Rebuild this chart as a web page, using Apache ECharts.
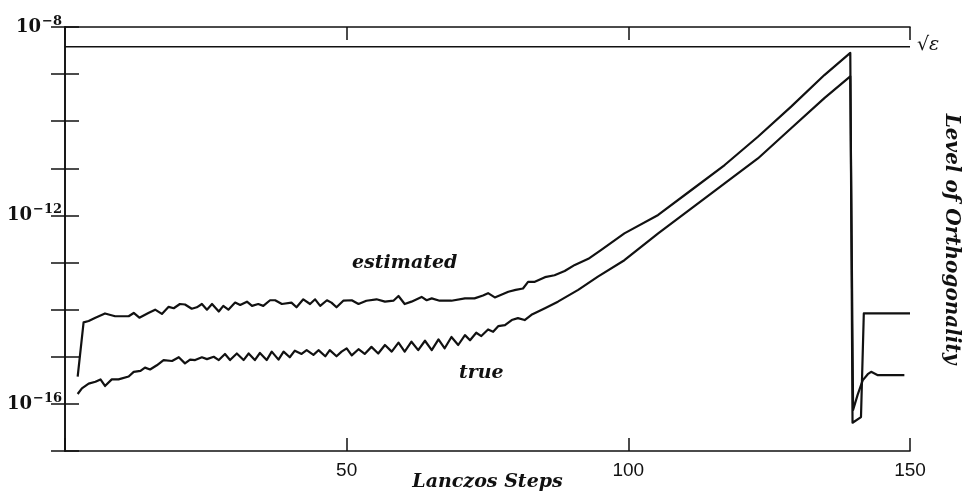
<!DOCTYPE html>
<html>
<head>
<meta charset="utf-8">
<script src="https://cdn.jsdelivr.net/npm/echarts@6/dist/echarts.min.js"></script>
<style>html,body{margin:0;padding:0;background:#fff}#c{width:971px;height:498px}</style>
</head>
<body>
<div id="c"></div>
<script>
// x: Lanczos step, y: log10 of level of orthogonality
var estimated = [[2.25,-15.42],[3.3,-14.27],[4.2,-14.24],[5.4,-14.17],[7.1,-14.08],[8.9,-14.14],[11.3,-14.14],[12.2,-14.07],[13.2,-14.17],[14.8,-14.07],[16.0,-14.00],[17.2,-14.09],[18.4,-13.94],[19.3,-13.97],[20.4,-13.88],[21.3,-13.89],[22.5,-13.98],[23.4,-13.95],[24.3,-13.88],[25.2,-14.00],[26.1,-13.88],[27.3,-14.04],[28.1,-13.92],[29.0,-14.00],[30.2,-13.85],[31.1,-13.90],[32.3,-13.83],[33.2,-13.92],[34.3,-13.88],[35.2,-13.92],[36.4,-13.80],[37.3,-13.80],[38.5,-13.88],[40.2,-13.85],[41.1,-13.95],[42.3,-13.78],[43.5,-13.88],[44.4,-13.78],[45.3,-13.92],[46.5,-13.80],[47.3,-13.85],[48.2,-13.95],[49.4,-13.81],[50.9,-13.80],[52.1,-13.88],[53.5,-13.81],[55.3,-13.78],[56.8,-13.83],[58.3,-13.81],[59.2,-13.71],[60.3,-13.88],[61.5,-13.83],[63.3,-13.73],[64.2,-13.80],[65.1,-13.76],[66.5,-13.81],[68.6,-13.81],[71.0,-13.76],[72.7,-13.76],[74.2,-13.70],[75.1,-13.65],[76.3,-13.74],[78.7,-13.62],[80.0,-13.58],[81.3,-13.55],[82.2,-13.41],[83.4,-13.41],[85.2,-13.31],[86.9,-13.27],[88.7,-13.18],[90.5,-13.05],[92.9,-12.92],[95.2,-12.73],[99.3,-12.38],[105.3,-11.99],[111.2,-11.46],[117.1,-10.93],[123.0,-10.33],[128.9,-9.69],[134.8,-9.02],[139.4,-8.55],[139.8,-16.40],[141.3,-16.28],[141.8,-14.08],[150,-14.08]];
var trueLevel = [[2.25,-15.79],[3.0,-15.67],[4.2,-15.57],[5.4,-15.53],[6.3,-15.48],[7.1,-15.62],[8.3,-15.48],[9.5,-15.48],[11.3,-15.42],[12.2,-15.32],[13.4,-15.30],[14.2,-15.23],[15.1,-15.27],[16.3,-15.18],[17.5,-15.07],[19.0,-15.09],[20.2,-15.01],[21.3,-15.14],[22.2,-15.06],[23.1,-15.07],[24.3,-15.01],[25.2,-15.05],[26.4,-15.00],[27.3,-15.07],[28.4,-14.94],[29.3,-15.07],[30.5,-14.93],[31.7,-15.07],[32.6,-14.93],[33.7,-15.07],[34.6,-14.92],[35.8,-15.07],[36.7,-14.89],[37.9,-15.06],[38.8,-14.89],[39.9,-15.01],[40.8,-14.87],[42.0,-14.94],[42.9,-14.86],[44.1,-14.96],[45.0,-14.86],[46.2,-14.99],[47.0,-14.86],[48.2,-14.99],[49.1,-14.89],[50.0,-14.82],[50.9,-14.97],[52.1,-14.84],[53.2,-14.94],[54.4,-14.79],[55.6,-14.93],[56.8,-14.75],[58.0,-14.89],[59.2,-14.70],[60.3,-14.89],[61.5,-14.68],[62.7,-14.86],[63.9,-14.66],[65.1,-14.86],[66.3,-14.63],[67.4,-14.82],[68.6,-14.58],[69.8,-14.75],[71.0,-14.54],[71.9,-14.65],[73.0,-14.49],[73.9,-14.56],[75.1,-14.42],[76.0,-14.47],[76.9,-14.35],[78.1,-14.33],[79.3,-14.22],[80.4,-14.18],[81.6,-14.22],[82.8,-14.11],[85.2,-13.97],[87.5,-13.83],[91.1,-13.58],[94.6,-13.30],[99.3,-12.95],[105.3,-12.38],[111.2,-11.85],[117.1,-11.32],[123.0,-10.79],[128.9,-10.15],[134.8,-9.51],[139.4,-9.05],[139.9,-16.13],[140.7,-15.81],[141.6,-15.50],[142.5,-15.37],[143.1,-15.32],[144.3,-15.39],[149.0,-15.39]];
var sqrtEpsLevel = -8.42;
var xTicks = [0, 50, 100, 150];
var yLabelExps = [-8, -12, -16];

var INK = '#111';
var serifBI = {fontFamily: 'DejaVu Serif', fontWeight: 'bold', fontStyle: 'italic', fontSize: 19, color: INK};

var chart = echarts.init(document.getElementById('c'), null, {renderer: 'canvas'});
var axisLine = {show: true, lineStyle: {color: INK, width: 1.6}};
var tickY = {show: true, inside: true, length: 14, lineStyle: {color: INK, width: 1.5}};
var tickX = {show: true, inside: true, length: 13, lineStyle: {color: INK, width: 1.5}};

chart.setOption({
  animation: false,
  backgroundColor: '#fff',
  grid: {left: 65, right: 61, top: 27, bottom: 47, containLabel: false, outerBoundsMode: 'none'},
  xAxis: [{
    type: 'value', min: xTicks[0], max: xTicks[xTicks.length - 1], interval: 50, position: 'bottom',
    axisLine: axisLine, axisTick: tickX, splitLine: {show: false},
    axisLabel: {showMaxLabel: true, margin: 10, fontFamily: 'Liberation Sans', fontSize: 19, color: INK,
      formatter: function (v) { return v === 0 ? '' : String(v); }},
    name: 'Lanczos Steps', nameLocation: 'middle', nameGap: 22, nameMoveOverlap: false, nameTextStyle: serifBI
  }, {
    type: 'value', min: xTicks[0], max: xTicks[xTicks.length - 1], interval: 50, position: 'top',
    axisLine: axisLine, axisTick: tickX, splitLine: {show: false}, axisLabel: {show: false}
  }],
  yAxis: [{
    type: 'value', min: -17, max: -8, interval: 1, position: 'left',
    axisLine: axisLine, axisTick: tickY, splitLine: {show: false},
    axisLabel: {margin: 3, showMaxLabel: true,
      formatter: function (v) {
        return yLabelExps.indexOf(v) >= 0 ? '{b|10}{s|\u2212' + (-v) + '}' : '';
      },
      rich: {
        b: {fontFamily: 'DejaVu Serif', fontWeight: 'bold', fontSize: 18, color: INK, lineHeight: 24},
        s: {fontFamily: 'DejaVu Serif', fontWeight: 'bold', fontSize: 13, color: INK, lineHeight: 12, verticalAlign: 'top', padding: [0, 0, 0, 1]}
      }
    }
  }, {
    type: 'value', min: -17, max: -8, interval: 1, position: 'right',
    axisLine: axisLine, axisTick: tickY, splitLine: {show: false}, axisLabel: {show: false},
    name: 'Level of Orthogonality', nameLocation: 'middle', nameRotate: -90, nameGap: 31, nameMoveOverlap: false,
    nameTextStyle: Object.assign({}, serifBI, {fontSize: 20})
  }],
  series: [{
    type: 'line', name: 'sqrt eps', data: [[xTicks[0], sqrtEpsLevel], [xTicks[xTicks.length - 1], sqrtEpsLevel]],
    symbol: 'none', lineStyle: {color: INK, width: 1.6}, silent: true
  }, {
    type: 'line', name: 'estimated', data: estimated, symbol: 'none',
    lineStyle: {color: INK, width: 2.2, join: 'round'}, silent: true
  }, {
    type: 'line', name: 'true', data: trueLevel, symbol: 'none',
    lineStyle: {color: INK, width: 2.2, join: 'round'}, silent: true
  }],
  graphic: [
    {type: 'text', left: 352, top: 254, style: {text: 'estimated', font: 'italic bold 19px "DejaVu Serif"', fill: INK}},
    {type: 'text', left: 459, top: 364, style: {text: 'true', font: 'italic bold 19px "DejaVu Serif"', fill: INK}},
    {type: 'text', left: 917, top: 36, style: {text: '\u221A\u03B5', font: 'italic 19px "DejaVu Serif"', fill: INK}}
  ]
});
</script>
</body>
</html>
